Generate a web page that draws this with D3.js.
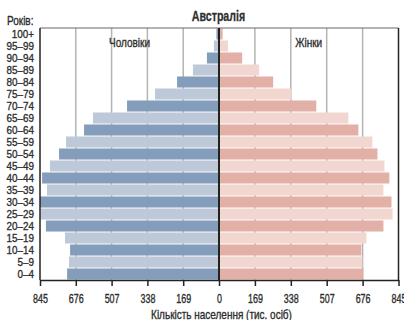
<!DOCTYPE html>
<html><head><meta charset="utf-8">
<script src="https://cdn.jsdelivr.net/npm/d3@7"></script>
<style>
body{margin:0;background:#fff;}
text{font-family:"Liberation Sans",Arial,sans-serif;fill:#2e2e2e;stroke:#2e2e2e;stroke-width:0.35px;}
</style></head><body>
<svg id="c" width="404" height="320"></svg>
<script>
const title = "Австралія";
const ages = ["100+","95–99","90–94","85–89","80–84","75–79","70–74","65–69","60–64","55–59","50–54","45–49","40–44","35–39","30–34","25–29","20–24","15–19","10–14","5–9","0–4"];
const male = [12,24,57,123,198,302,434,595,637,722,755,798,835,812,845,843,817,727,703,708,717];
const female = [17,42,109,189,255,340,458,609,656,722,746,779,802,774,812,817,774,694,670,675,680];
const ticks = [0,169,338,507,676,845];
const maleLabel = "Чоловіки", femaleLabel = "Жінки";
const yLabel = "Років:";
const xTitle = "Кількість населення (тис. осіб)";

const svg = d3.select("#c");
const L = 40, R = 398.5, C = 219, T = 28, B = 280;
const xm = d3.scaleLinear().domain([0,845]).range([C, L]);
const xf = d3.scaleLinear().domain([0,845]).range([C, R]);
const y = d3.scaleBand().domain(ages).range([T, B]).paddingInner(0.08).paddingOuter(0.04);

const colM = ["#839dbb","#bdc9d9"], colF = ["#e3b0a8","#f2d6d0"];

function txt(x, yy, s, size, sx, anchor, bold) {
  return svg.append("text").attr("transform",`translate(${x},${yy}) scale(${sx},1)`)
    .attr("text-anchor",anchor||"start").attr("font-size",size)
    .attr("font-weight",bold?"bold":null).style("stroke-width",bold?"0.25px":null).text(s);
}

// grid
const g = svg.append("g");
ticks.filter(t => t>0 && t<845).forEach(t => {
  [xm(t), xf(t)].forEach(x => g.append("line").attr("x1",x).attr("x2",x).attr("y1",T).attr("y2",B)
    .attr("stroke","#b4b4b4").attr("stroke-width",1.5));
});

// bars
svg.append("g").selectAll("rect").data(ages).join("rect")
  .attr("x",(d,i)=>xm(male[i])).attr("width",(d,i)=>xm(0)-xm(male[i]))
  .attr("y",d=>y(d)).attr("height",y.bandwidth())
  .attr("fill",(d,i)=>colM[i%2]);
svg.append("g").selectAll("rect").data(ages).join("rect")
  .attr("x",xf(0)).attr("width",(d,i)=>xf(female[i])-xf(0))
  .attr("y",d=>y(d)).attr("height",y.bandwidth())
  .attr("fill",(d,i)=>colF[i%2]);

// frame
svg.append("line").attr("x1",L).attr("x2",R).attr("y1",T).attr("y2",T).attr("stroke","#666").attr("stroke-width",1);
svg.append("line").attr("x1",L).attr("x2",L).attr("y1",T).attr("y2",B).attr("stroke","#222").attr("stroke-width",1.5);
svg.append("line").attr("x1",R).attr("x2",R).attr("y1",T).attr("y2",B).attr("stroke","#222").attr("stroke-width",1.5);
svg.append("line").attr("x1",C).attr("x2",C).attr("y1",T).attr("y2",B).attr("stroke","#222").attr("stroke-width",2);

// axes
const axM = d3.axisBottom(xm).tickValues(ticks).tickSize(6).tickSizeOuter(0);
const axF = d3.axisBottom(xf).tickValues(ticks.filter(t=>t>0)).tickSize(6).tickSizeOuter(0);
[axM, axF].forEach(ax => {
  const a = svg.append("g").attr("transform",`translate(0,${B})`).call(ax);
  a.select(".domain").attr("stroke","#222").attr("stroke-width",1.5);
  a.selectAll(".tick line").attr("stroke","#222").attr("stroke-width",1.5);
  a.selectAll(".tick text").attr("font-size",12.4).attr("y",0).attr("dy",null)
    .attr("transform",`translate(0,22.5) scale(0.72,1)`).attr("fill","#2e2e2e")
    .style("font-family",'"Liberation Sans",Arial,sans-serif');
});

// age labels
ages.forEach(d => txt(34, y(d)+y.bandwidth()/2+4.2, d, 11.8, 0.84, "end"));

txt(7, 25, yLabel, 12.5, 0.8, "start");
txt(218.5, 21, title, 14, 0.76, "middle", true);
txt((L+C)/2, 46.5, maleLabel, 12.5, 0.8, "middle");
txt((C+R)/2, 46.5, femaleLabel, 12.5, 0.8, "middle");
txt(221.5, 318.5, xTitle, 12.5, 0.8, "middle");
</script></body></html>
